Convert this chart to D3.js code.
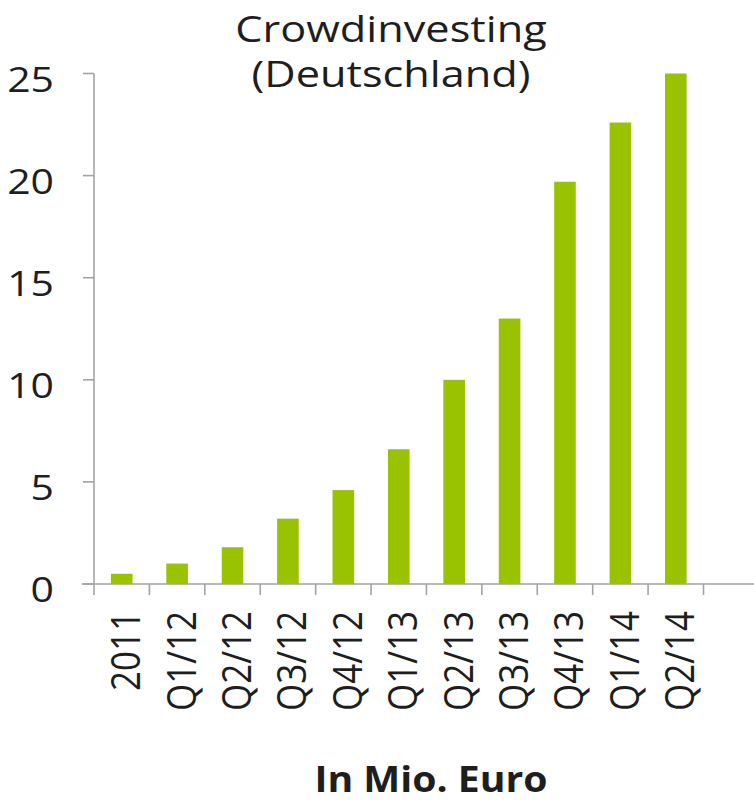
<!DOCTYPE html>
<html>
<head>
<meta charset="utf-8">
<script src="https://cdn.jsdelivr.net/npm/d3@7"></script>
<style>
  html, body { margin: 0; padding: 0; background: #fff; }
  svg { display: block; }
  text { font-family: "Open Sans", "Noto Sans", sans-serif; fill: #1e1e1e; }
</style>
</head>
<body>
<svg id="chart" width="754" height="802"></svg>
<script>
// ---- data ----
const categories = ["2011", "Q1/12", "Q2/12", "Q3/12", "Q4/12", "Q1/13", "Q2/13", "Q3/13", "Q4/13", "Q1/14", "Q2/14"];
const values = [0.5, 1.0, 1.8, 3.2, 4.6, 6.6, 10.0, 13.0, 19.7, 22.6, 25.0];
const yTicks = [0, 5, 10, 15, 20, 25];
const titleLines = ["Crowdinvesting", "(Deutschland)"];
const xTitle = "In Mio. Euro";

// ---- layout ----
const W = 754, H = 802;
const mLeft = 94, mRight = 703.5, mTop = 73.5, mBottom = 584;
const sx = 1.17; // horizontal stretch of the reference image text
const barColor = "#99c200";
const axisColor = "#a3a3a3";

const svg = d3.select("#chart");

const x = d3.scaleBand()
  .domain(categories)
  .range([mLeft, mRight])
  .paddingInner(0.61)
  .paddingOuter(0.305);

const y = d3.scaleLinear().domain([0, 25]).range([mBottom, mTop]);

// bars
svg.append("g").selectAll("rect")
  .data(categories.map((c, i) => ({ c, v: values[i] })))
  .join("rect")
  .attr("x", d => x(d.c))
  .attr("width", x.bandwidth())
  .attr("y", d => y(d.v))
  .attr("height", d => y(0) - y(d.v))
  .attr("fill", barColor);

// y axis
const ya = svg.append("g");
ya.append("line")
  .attr("x1", mLeft).attr("x2", mLeft)
  .attr("y1", y(25)).attr("y2", y(0))
  .attr("stroke", axisColor).attr("stroke-width", 1.6);
ya.selectAll("line.tick")
  .data(yTicks)
  .join("line")
  .attr("class", "tick")
  .attr("x1", mLeft - 11).attr("x2", mLeft)
  .attr("y1", d => y(d)).attr("y2", d => y(d))
  .attr("stroke", axisColor).attr("stroke-width", 1.6);
ya.selectAll("text")
  .data(yTicks)
  .join("text")
  .attr("text-anchor", "end")
  .attr("font-size", 35)
  .attr("transform", d => `translate(${mLeft - 40},${y(d) + 18}) scale(${sx},1)`)
  .text(d => d);

// x axis
const xa = svg.append("g");
xa.append("line")
  .attr("x1", mLeft - 12).attr("x2", W)
  .attr("y1", y(0)).attr("y2", y(0))
  .attr("stroke", axisColor).attr("stroke-width", 1.6);
const boundaries = d3.range(categories.length + 1).map(i => x.range()[0] + i * x.step());
xa.selectAll("line.tick")
  .data(boundaries)
  .join("line")
  .attr("class", "tick")
  .attr("x1", d => d).attr("x2", d => d)
  .attr("y1", y(0)).attr("y2", y(0) + 11)
  .attr("stroke", axisColor).attr("stroke-width", 1.6);
xa.selectAll("text")
  .data(categories)
  .join("text")
  .attr("text-anchor", "end")
  .attr("font-size", 35)
  .attr("transform", d => `translate(${x(d) + x.bandwidth() / 2 + 18.5},${y(0) + 27}) scale(${sx},1) rotate(-90)`)
  .text(d => d);

// title (one text element, two lines)
const title = svg.append("text")
  .attr("text-anchor", "middle")
  .attr("font-size", 37)
  .attr("transform", `translate(391,42) scale(${sx},1)`);
title.selectAll("tspan")
  .data(titleLines)
  .join("tspan")
  .attr("x", 0)
  .attr("y", (d, i) => i * 45)
  .text(d => d);

// x axis title
svg.append("text")
  .attr("text-anchor", "middle")
  .attr("font-size", 35)
  .attr("font-weight", "bold")
  .attr("transform", `translate(431,792) scale(1.12,1)`)
  .text(xTitle);
</script>
</body>
</html>
